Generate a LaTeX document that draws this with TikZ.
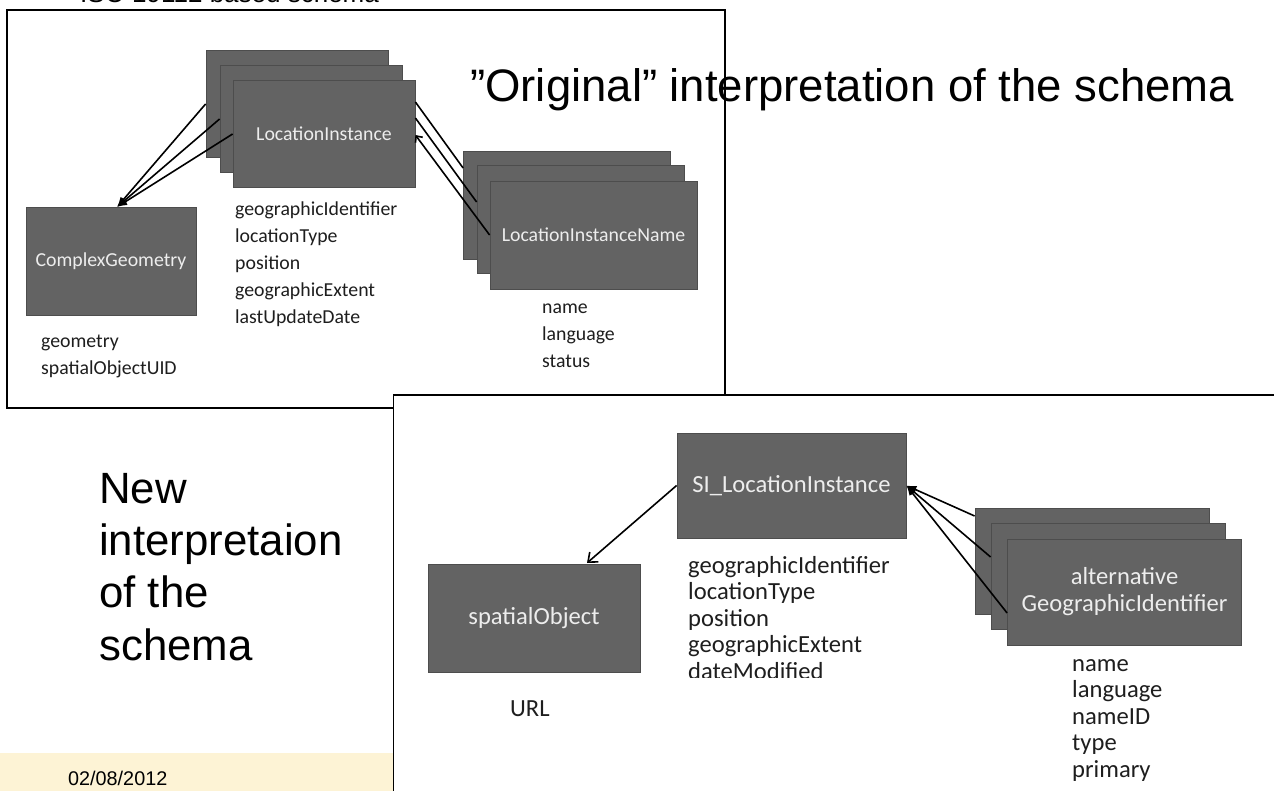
\documentclass[tikz,border=0pt]{standalone}
\usepackage{fontspec}
\setmainfont{Carlito}
\newfontfamily\arialf{Liberation Sans}
\usetikzlibrary{arrows.meta}
\definecolor{boxfill}{HTML}{636363}
\definecolor{boxline}{HTML}{4D4D4D}
\definecolor{boxtext}{HTML}{EDEDED}
\definecolor{attrtext}{HTML}{1E1E1E}
\definecolor{datebar}{HTML}{FDF3D5}
\begin{document}
\begin{tikzpicture}[x=1pt,y=-1pt,
 umlbox/.style={draw=boxline, line width=0.8pt, fill=boxfill, text=boxtext, inner sep=0pt, align=center},
 topbox/.style={umlbox, minimum width=182pt, minimum height=107pt, font=\fontsize{19.8}{27}\selectfont},
 topattr/.style={inner sep=0pt, anchor=base west, align=left, text=attrtext, font=\fontsize{19.8}{27}\selectfont},
 botattr/.style={inner sep=0pt, anchor=base west, align=left, text=attrtext, font=\fontsize{24.6}{26.5}\selectfont},
 slidetext/.style={inner sep=0pt, anchor=base west, align=left},
 panel/.style={draw=black, line width=1.2pt},
 conn/.style={line width=1.6pt, black},
 filledtip/.style={-{Latex[length=10pt,width=8pt]}},
 opentip/.style={-{Straight Barb[length=5pt,width=9pt]}},
 bigopentip/.style={-{Straight Barb[length=8pt,width=13pt]}},
]
\useasboundingbox (0,0) rectangle (1274,791);
% date bar
\fill[datebar] (0,753) rectangle (394,791);
\node[slidetext, font=\arialf\fontsize{19.8}{22}\selectfont] (date) at (68,785) {02/08/2012};
% slide title (cut off)
\node[slidetext, font=\arialf\fontsize{26}{30}\selectfont] (title) at (80,3) {ISO 19112 based schema};
% top panel
\draw[panel, fill=white] (7,10) rectangle (725,408);
% top panel boxes
\node[topbox] (liback) at (297,104) {};
\node[topbox] (limid) at (311,119) {};
\node[topbox] (lifront) at (324,134) {LocationInstance};
\node[topbox, minimum width=170pt, minimum height=108pt] (cg) at (111,261) {ComplexGeometry};
\node[topbox, minimum width=207pt, minimum height=108pt] (linback) at (567,205) {};
\node[topbox, minimum width=207pt, minimum height=108pt] (linmid) at (580.5,219.5) {};
\node[topbox, minimum width=207pt, minimum height=108pt] (linfront) at (593.5,235) {LocationInstanceName};
% base anchor of a multi-line node = baseline of its last line
\node[topattr] (liattr) at (235,324) {geographicIdentifier\\locationType\\position\\geographicExtent\\lastUpdateDate};
\node[topattr] (cgattr) at (41,374) {geometry\\spatialObjectUID};
\node[topattr] (linattr) at (542,367) {name\\language\\status};
\coordinate (cgtip) at (117,207);
\draw[conn, filledtip] (liback.west) -- (cgtip);
\draw[conn, filledtip] (limid.west) -- (cgtip);
\draw[conn, filledtip] (lifront.west) -- (cgtip);
\draw[conn] ([yshift=37pt]linback.west) -- ([yshift=32pt]lifront.east);
\draw[conn] ([yshift=17.5pt]linmid.west) -- ([yshift=16pt]lifront.east);
\draw[conn, opentip] (linfront.west) -- ([yshift=-1pt]lifront.east);
\node[slidetext, font=\arialf\fontsize{45.5}{52}\selectfont] (origtitle) at (470,102) {”Original” interpretation of the schema};
% bottom panel
\fill[white] (393.5,395) rectangle (1280,795);
\draw[panel] (1280,395) -- (393.5,395) -- (393.5,795);
\node[slidetext, font=\arialf\fontsize{43.8}{52.3}\selectfont] (newtitle) at (99,660) {New\\interpretaion\\of the\\schema};
\node[umlbox, minimum width=229pt, minimum height=105pt, font=\fontsize{24.6}{27}\selectfont] (si) at (791.5,485.5) {SI\_LocationInstance};
\node[umlbox, minimum width=212pt, minimum height=108pt, font=\fontsize{24.6}{27}\selectfont] (so) at (534,618) {spatialObject};
\node[umlbox, minimum width=234pt, minimum height=106pt] (altback) at (1092,561.5) {};
\node[umlbox, minimum width=234pt, minimum height=106pt] (altmid) at (1108,576.5) {};
\node[umlbox, minimum width=234pt, minimum height=106pt, font=\fontsize{24.6}{27}\selectfont] (altfront) at (1124.5,592) {alternative\\GeographicIdentifier};
\begin{scope}
\clip (600,540) rectangle (960,677);
\node[botattr] (siattr) at (688,679) {geographicIdentifier\\locationType\\position\\geographicExtent\\dateModified};
\end{scope}
\node[botattr] (url) at (510,716) {URL};
\node[botattr] (altattr) at (1072,777) {name\\language\\nameID\\type\\primary};
\coordinate (sotip) at (587,563);
\draw[conn, bigopentip] (si.west) -- (sotip);
\draw[conn, filledtip] ([yshift=45.5pt]altback.west) -- (si.east);
\draw[conn, filledtip] ([yshift=19.5pt]altmid.west) -- (si.east);
\draw[conn, filledtip] ([yshift=-21pt]altfront.west) -- (si.east);
\end{tikzpicture}
\end{document}
